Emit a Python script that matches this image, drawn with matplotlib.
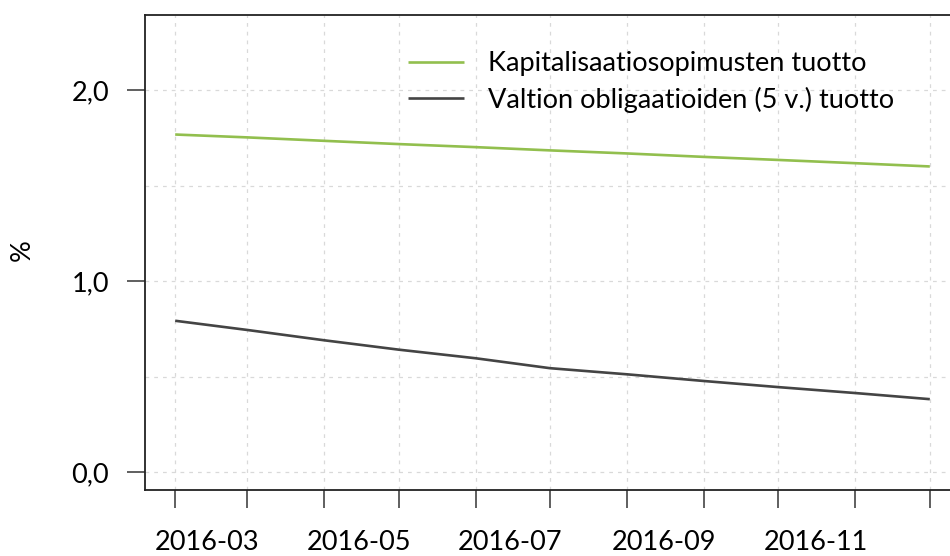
import matplotlib
matplotlib.use("Agg")
import matplotlib.pyplot as plt
import matplotlib.dates as mdates
import numpy as np
from datetime import date

# ---- data ----
months = ["2016-02", "2016-03", "2016-04", "2016-05", "2016-06", "2016-07",
          "2016-08", "2016-09", "2016-10", "2016-11", "2016-12"]
kapitalisaatio = [1.767, 1.752, 1.734, 1.717, 1.701, 1.684, 1.668, 1.650, 1.634, 1.617, 1.600]
valtion = [0.793, 0.745, 0.691, 0.642, 0.597, 0.545, 0.513, 0.478, 0.446, 0.415, 0.383]
x_labels = ["2016-03", "2016-05", "2016-07", "2016-09", "2016-11"]
y_ticks = [0.0, 1.0, 2.0]
y_ticklabels = ["0,0", "1,0", "2,0"]
series_names = ["Kapitalisaatiosopimusten tuotto", "Valtion obligaatioiden (5 v.) tuotto"]

plt.rcParams['font.family'] = ['Lato', 'DejaVu Sans']
FS = 19.5

def to_num(s):
    y, m = s.split("-")
    return mdates.date2num(date(int(y), int(m), 1))

xs = np.array([to_num(m) for m in months])
lab_x = [to_num(l) - 16 for l in x_labels]

fig = plt.figure(figsize=(9.5, 5.56), dpi=100)
ax = fig.add_axes([145/950, 1-490/556, (960-145)/950, (490-15)/556])

green = "#92bf4e"
dark = "#444444"
ax.plot(xs, kapitalisaatio, color=green, lw=1.9, label=series_names[0], solid_capstyle='butt')
ax.plot(xs, valtion, color=dark, lw=1.9, label=series_names[1], solid_capstyle='butt')

span = xs[-1] - xs[0]
ax.set_xlim(xs[0] - 0.04*span, xs[-1] + 0.04*span)
yr = 2.3
ax.set_ylim(-0.04*yr, yr*1.04)

# grid
for xv in xs:
    ax.axvline(xv, color="#d9d9d9", lw=0.9, ls=(0, (3, 4)), zorder=0)
for yv in [0, 0.5, 1.0, 1.5, 2.0]:
    ax.axhline(yv, color="#d9d9d9", lw=0.9, ls=(0, (3, 4)), zorder=0)

ax.set_yticks(y_ticks)
ax.set_yticklabels(y_ticklabels)
ax.set_xticks(xs)
ax.set_xticklabels([])
ax.set_xticks(lab_x, minor=True)
ax.set_xticklabels(x_labels, minor=True)
ax.tick_params(axis='x', which='minor', length=0, pad=29, labelsize=FS)
ax.tick_params(axis='x', which='major', length=13, width=1.2, color="#444444")
ax.tick_params(axis='y', length=13, width=1.2, color="#444444", pad=13, labelsize=FS)

for s in ax.spines.values():
    s.set_linewidth(1.3)
    s.set_color("#222222")

fig.text(22/950, 1-250/556, "%", rotation=90, fontsize=FS, ha='center', va='center')

fig.legend(loc='upper left', bbox_to_anchor=(408/950, 1-51/556), frameon=False,
           fontsize=FS, handlelength=2.05, handletextpad=0.92, labelspacing=0.4,
           borderpad=0, borderaxespad=0)

fig.savefig("out.png", dpi=100)
